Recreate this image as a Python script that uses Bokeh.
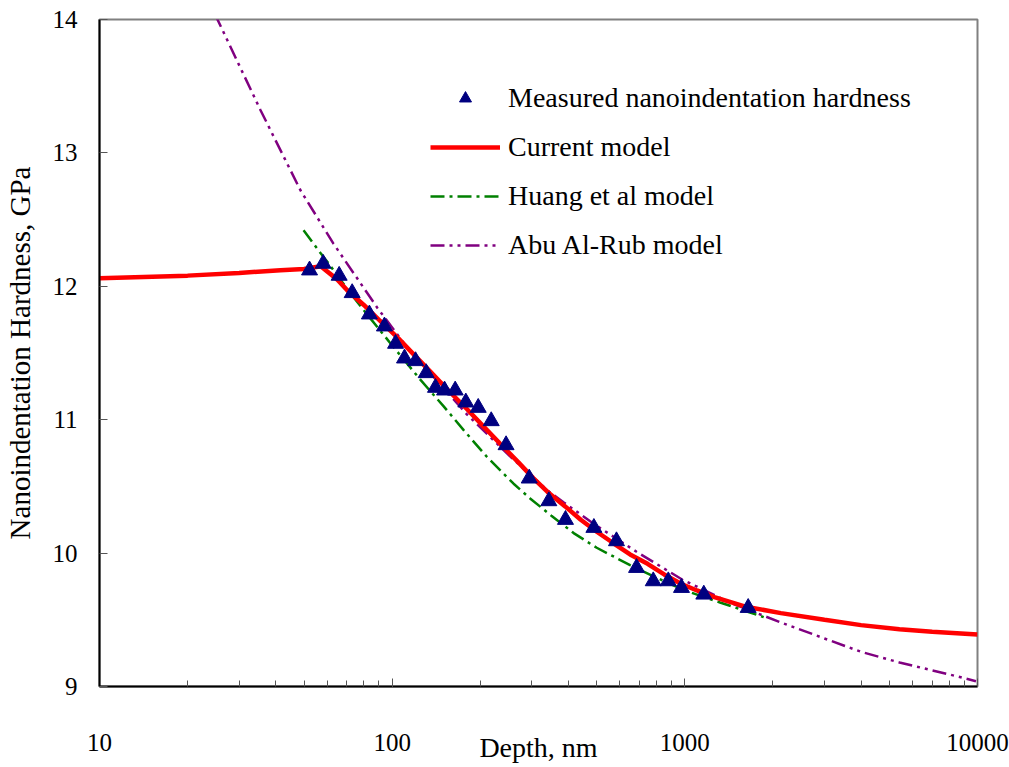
from bokeh.plotting import figure
from bokeh.models import Legend, LegendItem, LogTicker, FixedTicker, PrintfTickFormatter
from bokeh.embed import file_html
from bokeh.resources import INLINE

# Measured nanoindentation hardness
meas_depth = [52.2, 58.1, 65.9, 73.0, 83.6, 94.1, 102.7, 110.2, 120.2, 130.7, 140.6, 151.0,
              164.2, 178.5, 196.8, 218, 245, 294, 343, 391, 489, 584, 684, 780, 878, 974, 1161, 1646]
meas_h = [12.12, 12.17, 12.08, 11.95, 11.79, 11.70, 11.57, 11.46, 11.44, 11.35, 11.24, 11.22,
          11.22, 11.13, 11.09, 10.99, 10.81, 10.56, 10.39, 10.25, 10.19, 10.09, 9.89, 9.79, 9.79, 9.74, 9.69, 9.59]

# Current model
cur_depth = [10, 20, 30, 41.5, 50, 57, 65, 70.2, 80, 91, 105, 118.4, 135, 153.8, 180, 205, 234, 270,
             304, 339, 390, 441, 500, 574, 650, 746, 850, 970, 1100, 1262, 1600, 2129, 3000, 4000,
             5412, 7000, 10000]
cur_h = [12.06, 12.08, 12.10, 12.12, 12.13, 12.15, 12.05, 11.97, 11.86, 11.74, 11.61, 11.49, 11.36,
         11.23, 11.08, 10.95, 10.82, 10.68, 10.56, 10.46, 10.35, 10.25, 10.16, 10.07, 9.99, 9.92,
         9.84, 9.77, 9.72, 9.67, 9.60, 9.55, 9.50, 9.46, 9.43, 9.41, 9.39]

# Huang et al model
hu_depth = [49.8, 56.9, 60.7, 70.2, 80, 98.9, 124.8, 150, 175.8, 211, 260, 296, 350, 417, 500,
            650, 867, 1000, 1319, 1860]
hu_h = [12.42, 12.25, 12.17, 11.98, 11.82, 11.57, 11.30, 11.10, 10.92, 10.72, 10.52, 10.41, 10.28,
        10.15, 10.04, 9.91, 9.78, 9.72, 9.63, 9.52]

# Abu Al-Rub model
abu_depth = [24.8, 35.5, 48.6, 63, 88.9, 112.6, 142.7, 180, 260, 344, 386, 488, 684, 982, 1459,
             2129, 3000, 4000, 5412, 8030, 9880]
abu_h = [14.04, 13.32, 12.72, 12.32, 11.84, 11.54, 11.29, 11.04, 10.70, 10.46, 10.38, 10.22, 10.01,
         9.80, 9.62, 9.48, 9.36, 9.26, 9.18, 9.09, 9.04]

x_ticks = [10, 100, 1000, 10000]
y_ticks = [9, 10, 11, 12, 13, 14]

FONT = "Liberation Serif"

p = figure(width=1009, height=767, x_axis_type="log", x_range=(10, 10000), y_range=(9, 14),
           output_backend="svg", toolbar_location=None,
           min_border_left=99, min_border_right=32, min_border_top=19, min_border_bottom=81)
p.background_fill_color = "white"
p.border_fill_color = "white"
p.outline_line_color = "#808080"
p.outline_line_width = 2
p.xgrid.grid_line_color = None
p.ygrid.grid_line_color = None

xa = p.xaxis[0]
xa.ticker = LogTicker(desired_num_ticks=4, num_minor_ticks=10)
xa.formatter = PrintfTickFormatter(format="%d")
xa.axis_line_color = "black"
xa.axis_line_width = 2
xa.major_tick_in = 8
xa.major_tick_out = 0
xa.minor_tick_in = 6
xa.minor_tick_out = 0
xa.major_tick_line_color = "#555555"
xa.minor_tick_line_color = "#555555"
xa.major_label_text_font = FONT
xa.major_label_text_font_size = "25px"
xa.major_label_text_color = "black"
xa.major_label_standoff = 47
xa.axis_label = "Depth, nm"
xa.axis_label_text_font = FONT
xa.axis_label_text_font_size = "28px"
xa.axis_label_text_font_style = "normal"
xa.axis_label_text_color = "black"
xa.axis_label_standoff = -22

ya = p.yaxis[0]
ya.ticker = FixedTicker(ticks=y_ticks)
ya.axis_line_color = "black"
ya.axis_line_width = 2
ya.major_tick_in = 8
ya.major_tick_out = 0
ya.minor_tick_line_color = None
ya.major_tick_line_color = "#555555"
ya.major_label_text_font = FONT
ya.major_label_text_font_size = "25px"
ya.major_label_text_color = "black"
ya.major_label_standoff = 22
ya.axis_label = "Nanoindentation Hardness, GPa"
ya.axis_label_text_font = FONT
ya.axis_label_text_font_size = "29px"
ya.axis_label_text_font_style = "normal"
ya.axis_label_text_color = "black"
ya.axis_label_standoff = 14

r_abu = p.line(abu_depth, abu_h, line_color="#800080", line_width=2.5, line_dash="14 5 3 5 3 5")
r_hu = p.line(hu_depth, hu_h, line_color="#008000", line_width=2.5, line_dash="14 5 3 5")
r_cur = p.line(cur_depth, cur_h, line_color="#FF0000", line_width=4.5)
r_meas = p.scatter(meas_depth, meas_h, marker="triangle", size=16, fill_color="#000080",
                   line_color="#000080")

legend = Legend(items=[
    LegendItem(label="Measured nanoindentation hardness", renderers=[r_meas]),
    LegendItem(label="Current model", renderers=[r_cur]),
    LegendItem(label="Huang et al model", renderers=[r_hu]),
    LegendItem(label="Abu Al-Rub model", renderers=[r_abu]),
], location=(331, 425))
legend.border_line_color = None
legend.background_fill_alpha = 0
legend.padding = 0
legend.margin = 0
legend.glyph_width = 70
legend.glyph_height = 30
legend.label_height = 30
legend.spacing = 17
legend.label_standoff = 8
legend.label_text_font = FONT
legend.label_text_font_size = "28px"
legend.label_text_color = "black"
p.add_layout(legend, "center")

open("out.html", "w").write(file_html(p, INLINE))
